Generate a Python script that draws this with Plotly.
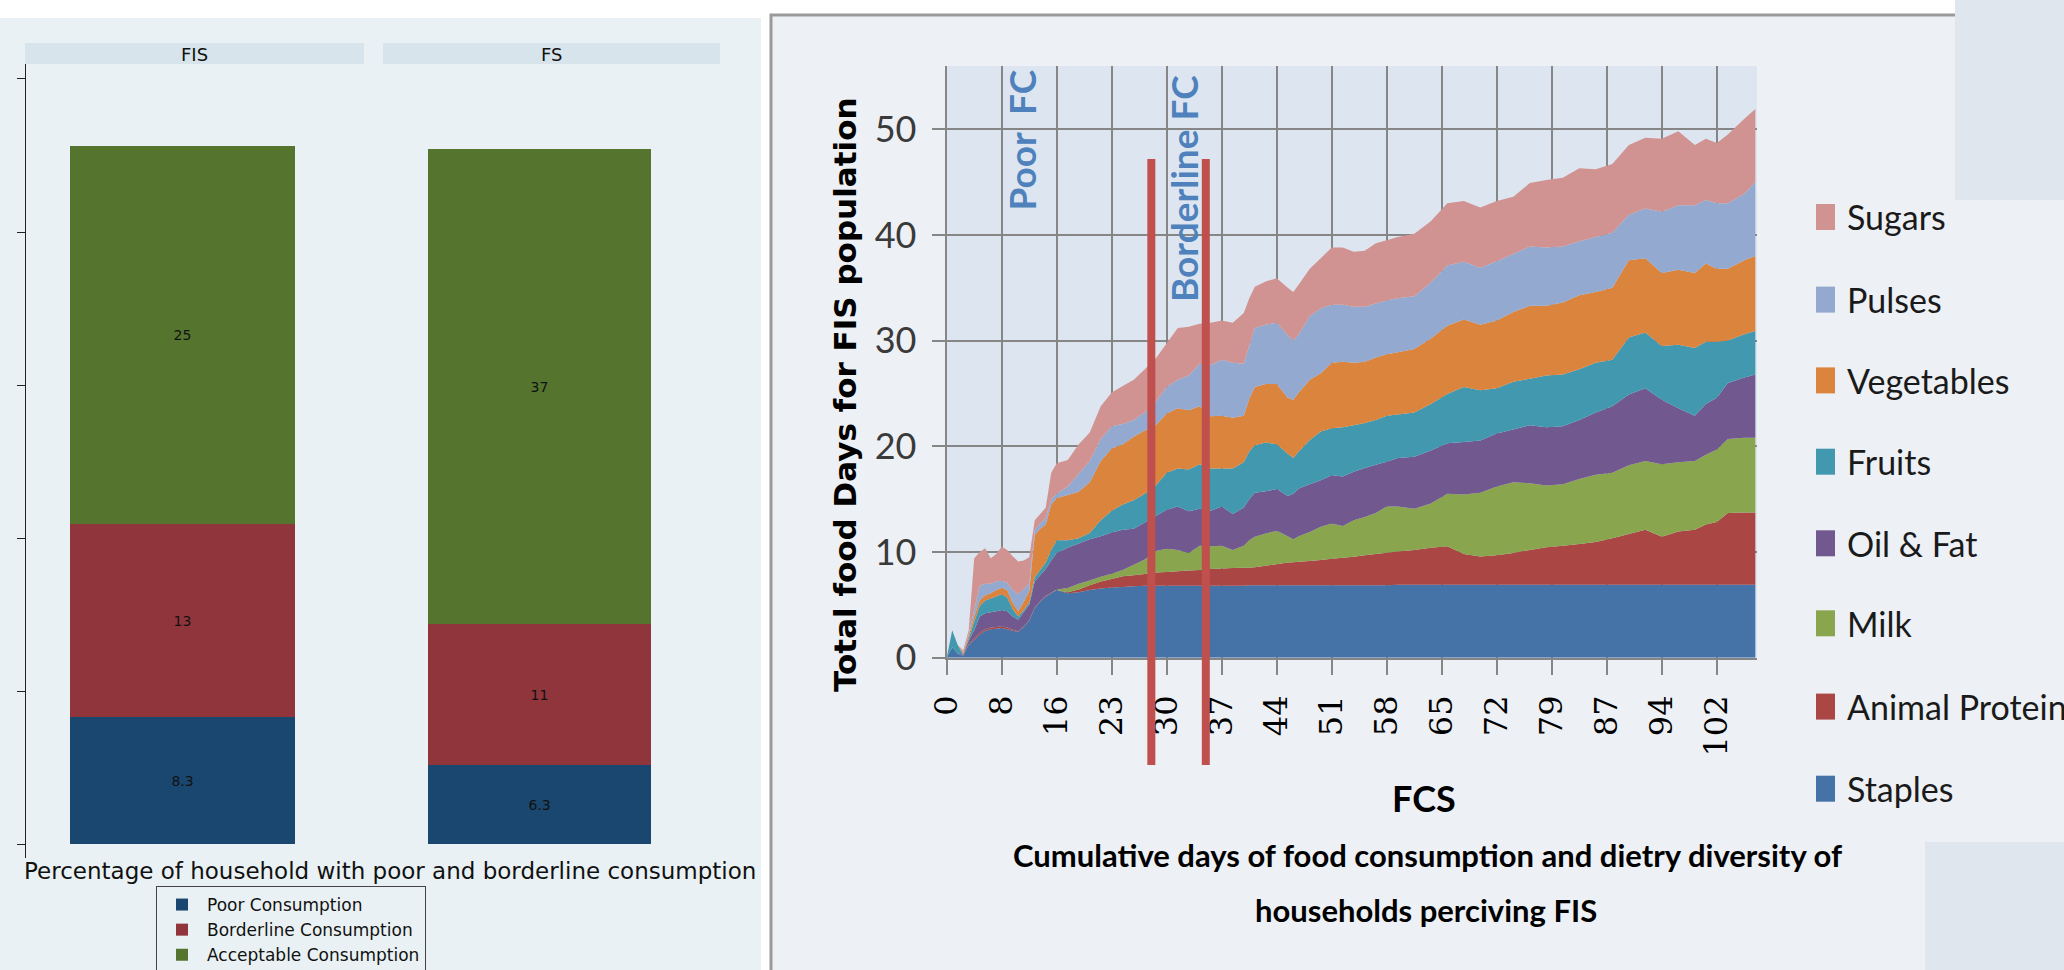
import plotly.graph_objects as go

W, H = 2064, 970


def px(x):
    return x / W


def py(y):
    return 1 - y / H


# ---------------- Left panel: stacked bars (Stata style) ----------------
consumption_classes = ["Poor Consumption", "Borderline Consumption", "Acceptable Consumption"]
bar_colors = ["#1a476f", "#90353b", "#55752f"]
fis_heights = [16.6, 25.2, 49.4]   # segment heights
fs_heights = [10.3, 18.4, 62.2]
fis_labels = ["8.3", "13", "25"]
fs_labels = ["6.3", "11", "37"]
left_yticks = [0, 20, 40, 60, 80, 100]

# ---------------- Right panel: cumulative stacked areas (Excel style) ----------------
rank_idx = [0, 1, 2, 3, 4, 5, 6, 7, 8, 9, 10, 11, 12, 13, 14, 15, 16, 17, 18, 19, 20,
            22, 24, 26, 28, 30, 32, 34, 36, 38, 40, 42, 44, 46, 48, 50, 52, 54,
            55, 56, 58, 60, 62, 63, 64, 66, 68, 70, 72, 74, 76, 78, 80, 82,
            85, 88, 91, 94, 97, 100, 103, 106, 109, 112, 115, 118, 121, 124, 127, 130, 133, 136,
            138, 140, 142, 145, 147]

staples_top = [0, 1.0, 0.4, 0.15, 1.2, 1.7, 2.2, 2.55, 2.7, 2.75, 2.8, 2.7, 2.55, 2.45, 2.9, 3.5, 4.7, 5.3, 5.8, 6.1, 6.4,
               6.1, 6.2, 6.4, 6.55, 6.65, 6.7, 6.75, 6.8, 6.8, 6.8, 6.8, 6.8, 6.8, 6.8, 6.8, 6.8, 6.8,
               6.85, 6.85, 6.85, 6.85, 6.85, 6.85, 6.85, 6.85, 6.85, 6.85, 6.85, 6.85, 6.85, 6.85, 6.85, 6.9,
               6.9, 6.9, 6.9, 6.9, 6.9, 6.9, 6.9, 6.9, 6.9, 6.9, 6.9, 6.9, 6.9, 6.9, 6.9, 6.9, 6.9, 6.9,
               6.9, 6.9, 6.9, 6.9, 6.9]
animal_top = [0, 1.0, 0.4, 0.15, 1.3, 1.85, 2.35, 2.7, 2.85, 2.9, 2.95, 2.85, 2.65, 2.5, 2.95, 3.55, 4.75, 5.35, 5.85, 6.15, 6.4,
              6.2, 6.45, 6.85, 7.2, 7.45, 7.7, 7.8, 7.92, 8.05, 8.1, 8.18, 8.24, 8.3, 8.4, 8.45, 8.48, 8.5,
              8.52, 8.55, 8.7, 8.85, 9.0, 9.03, 9.07, 9.15, 9.24, 9.35, 9.45, 9.56, 9.7, 9.8, 9.94, 10.05,
              10.2, 10.4, 10.55, 9.8, 9.58, 9.7, 9.9, 10.2, 10.45, 10.6, 10.75, 10.95, 11.3, 11.7, 12.1, 11.45, 11.95, 12.1,
              12.6, 12.84, 13.7, 13.74, 13.74]
milk_top = [0, 1.0, 0.4, 0.15, 1.3, 1.85, 2.35, 2.7, 2.85, 2.9, 2.95, 2.85, 2.65, 2.5, 2.95, 3.55, 4.75, 5.35, 5.85, 6.15, 6.45,
            6.6, 7.0, 7.3, 7.65, 7.95, 8.3, 8.8, 9.3, 10.1, 10.3, 10.2, 9.9, 10.6, 10.55, 10.6, 10.2, 10.6,
            11.1, 11.45, 11.75, 12.0, 11.5, 11.2, 11.5, 11.9, 12.4, 12.7, 12.45, 13.0, 13.3, 13.7, 14.3, 14.3,
            14.1, 14.6, 15.5, 15.45, 15.6, 16.2, 16.6, 16.5, 16.3, 16.4, 16.9, 17.3, 17.5, 18.2, 18.6, 18.3, 18.5, 18.6,
            19.2, 19.7, 20.7, 20.8, 20.8]
oil_top = [0, 1.0, 0.4, 0.3, 1.6, 2.6, 3.9, 4.2, 4.3, 4.4, 4.5, 4.4, 3.9, 3.6, 4.3, 5.0, 7.2, 7.8, 8.4, 9.2, 9.9,
           10.4, 10.8, 11.2, 11.5, 11.85, 12.1, 12.2, 12.8, 13.4, 14.0, 14.3, 13.85, 14.1, 13.9, 14.3, 13.6, 14.2,
           15.0, 15.6, 15.75, 15.95, 15.3, 15.5, 16.0, 16.4, 16.8, 17.25, 17.15, 17.6, 17.95, 18.25, 18.55, 18.9,
           19.0, 19.6, 20.3, 20.4, 20.55, 21.2, 21.6, 22.0, 21.8, 21.9, 22.5, 23.2, 23.8, 24.9, 25.5, 24.4, 23.6, 22.9,
           24.0, 24.6, 26.0, 26.5, 26.8]
fruits_top = [0, 2.6, 1.2, 0.3, 1.8, 3.4, 4.9, 5.4, 5.6, 5.8, 6.0, 5.7, 4.6, 3.9, 4.5, 5.2, 7.6, 8.3, 9.0, 10.2, 11.1,
              11.1, 11.3, 11.8, 13.0, 13.9, 14.5, 14.9, 15.5, 16.3, 17.5, 17.9, 17.8, 18.3, 17.9, 17.9, 17.9, 18.5,
              19.5, 20.1, 20.35, 20.2, 19.3, 18.9, 19.5, 20.6, 21.4, 21.7, 21.8, 22.0, 22.2, 22.5, 22.9, 23.0,
              23.2, 24.0, 24.95, 25.6, 25.3, 25.5, 26.1, 26.4, 26.7, 26.8, 27.3, 27.9, 28.2, 30.3, 30.76, 29.5, 29.6, 29.3,
              29.9, 29.9, 30.0, 30.6, 30.9]
veg_top = [0, 2.6, 1.2, 0.45, 2.1, 3.9, 5.4, 5.9, 6.1, 6.4, 6.6, 6.4, 5.2, 4.4, 5.3, 6.3, 11.6, 12.2, 12.6, 14.5, 15.1,
           15.4, 15.7, 16.6, 18.6, 19.8, 20.2, 20.9, 21.5, 22.0, 23.1, 23.6, 23.4, 23.8, 22.85, 22.9, 22.7, 22.9,
           24.5, 25.6, 25.9, 25.9, 24.6, 24.4, 25.1, 26.3, 26.9, 27.9, 28.0, 27.9, 28.0, 28.4, 28.7, 28.9,
           29.2, 30.2, 31.4, 32.0, 31.5, 31.9, 32.7, 33.3, 33.3, 33.6, 34.3, 34.6, 35.0, 37.6, 37.8, 36.4, 36.7, 36.4,
           37.3, 36.8, 36.8, 37.6, 38.0]
pulses_top = [0, 2.6, 1.2, 0.5, 2.3, 4.5, 6.8, 7.0, 7.0, 7.2, 7.3, 7.1, 6.4, 6.0, 6.5, 7.0, 12.1, 12.7, 13.2, 15.0, 15.5,
              16.2, 17.4, 18.6, 20.7, 21.9, 22.1, 22.5, 23.2, 24.2, 25.6, 26.3, 26.7, 27.8, 27.7, 28.2, 27.9, 27.8,
              29.5, 31.2, 31.5, 31.7, 30.5, 30.0, 30.6, 32.3, 33.05, 33.4, 33.4, 33.2, 33.2, 33.5, 33.8, 34.0,
              34.2, 35.5, 37.1, 37.46, 36.9, 37.5, 38.2, 38.9, 38.8, 38.9, 39.4, 39.8, 40.2, 41.9, 42.5, 42.2, 42.8, 42.8,
              43.3, 43.0, 43.0, 43.9, 45.0]
sugars_top = [0, 2.6, 1.2, 0.7, 2.6, 9.4, 10.0, 10.35, 9.4, 9.8, 10.5, 10.2, 9.6, 9.1, 9.2, 9.5, 13.0, 13.6, 14.2, 17.5, 18.4,
              18.7, 20.2, 21.3, 23.8, 25.1, 25.7, 26.3, 27.3, 28.3, 29.75, 31.2, 31.3, 31.6, 31.7, 31.9, 31.7, 32.6,
              34.0, 35.1, 35.6, 35.9, 35.0, 34.6, 35.3, 36.8, 37.8, 38.8, 38.8, 38.4, 38.5, 39.2, 39.5, 39.8,
              40.1, 41.3, 43.0, 43.2, 42.6, 43.2, 43.6, 44.9, 45.2, 45.4, 46.3, 46.2, 46.7, 48.5, 49.2, 49.1, 49.8, 48.5,
              49.1, 48.7, 49.5, 51.0, 51.9]

food_groups = ["Staples", "Animal Protein", "Milk", "Oil & Fat", "Fruits", "Vegetables", "Pulses", "Sugars"]
food_tops = [staples_top, animal_top, milk_top, oil_top, fruits_top, veg_top, pulses_top, sugars_top]
food_colors = ["#4572A7", "#AA4643", "#89A54E", "#71588F", "#4198AF", "#DB843D", "#93A9CF", "#D19392"]

fcs_tick_pos = [0, 10, 20, 30, 40, 50, 60, 70, 80, 90, 100, 110, 120, 130, 140]
fcs_tick_labels = ["0", "8", "16", "23", "30", "37", "44", "51", "58", "65", "72", "79", "87", "94", "102"]
right_yticks = [0, 10, 20, 30, 40, 50]
threshold_pos = [37.2, 47.1]   # Poor / Borderline cut-offs on the category axis

fig = go.Figure()

# ---- bars ----
for i, cls in enumerate(consumption_classes):
    fig.add_trace(go.Bar(
        x=["FIS"], y=[fis_heights[i]], text=[fis_labels[i]], name=cls,
        marker=dict(color=bar_colors[i], line=dict(width=0)), width=[0.663],
        textposition="inside", insidetextanchor="middle", textangle=0,
        textfont=dict(family="DejaVu Sans", size=14, color="#111111"),
        xaxis="x", yaxis="y", showlegend=True, hoverinfo="skip"))
    fig.add_trace(go.Bar(
        x=["FS"], y=[fs_heights[i]], text=[fs_labels[i]], name=cls,
        marker=dict(color=bar_colors[i], line=dict(width=0)), width=[0.663],
        textposition="inside", insidetextanchor="middle", textangle=0,
        textfont=dict(family="DejaVu Sans", size=14, color="#111111"),
        xaxis="x2", yaxis="y2", showlegend=False, hoverinfo="skip"))

# ---- areas ----
for k, (name, tops, col) in enumerate(zip(food_groups, food_tops, food_colors)):
    fig.add_trace(go.Scatter(
        x=rank_idx, y=tops, name=name, mode="none",
        fill="tozeroy" if k == 0 else "tonexty", fillcolor=col,
        xaxis="x3", yaxis="y3", showlegend=False, hoverinfo="skip"))

shapes = []
# left panel background and facet strips
shapes.append(dict(type="rect", xref="paper", yref="paper", x0=px(0), x1=px(761), y0=py(970), y1=py(18),
                   fillcolor="#e9f1f4", line=dict(width=0), layer="below"))
shapes.append(dict(type="rect", xref="paper", yref="paper", x0=px(25), x1=px(364), y0=py(64), y1=py(43),
                   fillcolor="#d8e4eb", line=dict(width=0), layer="below"))
shapes.append(dict(type="rect", xref="paper", yref="paper", x0=px(383), x1=px(720), y0=py(64), y1=py(43),
                   fillcolor="#d8e4eb", line=dict(width=0), layer="below"))
# right panel frame and background
shapes.append(dict(type="rect", xref="paper", yref="paper", x0=px(771), x1=px(2080), y0=py(985), y1=py(15),
                   fillcolor="#edf0f4", line=dict(color="#9a9a9a", width=3), layer="below"))
shapes.append(dict(type="rect", xref="paper", yref="paper", x0=px(1955), x1=px(2064), y0=py(200), y1=py(0),
                   fillcolor="#dfe6ee", line=dict(width=0), layer="below"))
shapes.append(dict(type="rect", xref="paper", yref="paper", x0=px(1925), x1=px(2064), y0=py(970), y1=py(842),
                   fillcolor="#dfe6ee", line=dict(width=0), layer="below"))
shapes.append(dict(type="rect", xref="paper", yref="paper", x0=px(946.7), x1=px(1757), y0=py(657.7), y1=py(66),
                   fillcolor="#dde6f0", line=dict(width=0), layer="below"))
# threshold lines
for t in threshold_pos:
    shapes.append(dict(type="line", xref="x3", yref="paper", x0=t, x1=t, y0=py(765), y1=py(159),
                       line=dict(color="#c0504d", width=8), layer="above"))
# legend swatches for the area chart
legend_centers = [217, 299.6, 380.4, 461.7, 543.3, 623.3, 706.6, 788.7]
legend_order = list(range(len(food_groups)))[::-1]
for c, k in zip(legend_centers, legend_order):
    shapes.append(dict(type="rect", xref="paper", yref="paper", x0=px(1816), x1=px(1835),
                       y0=py(c + 13), y1=py(c - 13), fillcolor=food_colors[k], line=dict(width=0)))


def ann(text, x, y, font, xanchor="center", yanchor="middle", angle=0):
    return dict(text=text, x=px(x), y=py(y), xref="paper", yref="paper", xanchor=xanchor,
                yanchor=yanchor, textangle=angle, showarrow=False, font=font)


annotations = [
    ann("FIS", 194.5, 54, dict(family="DejaVu Sans", size=18, color="#111111")),
    ann("FS", 551.5, 54, dict(family="DejaVu Sans", size=18, color="#111111")),
    ann("Percentage of household with poor and borderline consumption", 758, 871,
        dict(family="DejaVu Sans", size=23, color="#111111"), xanchor="right"),
    ann("Total food Days for FIS population", 845, 395,
        dict(family="DejaVu Sans", size=31, color="#000000", weight="bold"), angle=-90),
    ann("Poor\u00a0 FC", 1021, 140.5, dict(family="Lato", size=37, color="#4f81bd", weight="bold"), angle=-90),
    ann("Borderline FC", 1184, 189, dict(family="Lato", size=37, color="#4f81bd", weight="bold"), angle=-90),
    ann("FCS", 1424, 798, dict(family="Lato", size=36, color="#000000", weight="bold")),
    ann("Cumulative days of food consumption and dietry diversity of", 1427, 855,
        dict(family="Lato", size=31, color="#000000", weight="bold")),
    ann("households perciving FIS", 1426, 910, dict(family="Lato", size=31, color="#000000", weight="bold")),
]
for c, k in zip(legend_centers, legend_order):
    annotations.append(ann(food_groups[k], 1845, c, dict(family="Lato", size=34, color="#1a1a1a"),
                           xanchor="left"))

grid_col = "#868686"
fig.update_layout(
    width=W, height=H, margin=dict(l=0, r=0, t=0, b=0, pad=0, autoexpand=False),
    paper_bgcolor="white", plot_bgcolor="rgba(0,0,0,0)",
    barmode="stack", bargap=0, hovermode=False,
    showlegend=True,
    legend=dict(x=px(156), y=py(886), xanchor="left", yanchor="top", traceorder="normal",
                bgcolor="#e9f1f4", bordercolor="#444444", borderwidth=1, tracegroupgap=0,
                itemwidth=40, font=dict(family="DejaVu Sans", size=17, color="#111111")),
    shapes=shapes, annotations=annotations,
    xaxis=dict(domain=[px(26), px(364)], anchor="y", type="category", range=[-0.463, 0.537],
               showticklabels=False, showgrid=False, zeroline=False, showline=False, ticks=""),
    yaxis=dict(domain=[py(858), py(64)], anchor="x", range=[-1.83, 101.96], tickvals=left_yticks,
               ticks="outside", ticklen=8, tickcolor="#222222", showline=True, linecolor="#222222",
               linewidth=1, showticklabels=False, showgrid=False, zeroline=False),
    xaxis2=dict(domain=[px(383), px(720)], anchor="y2", type="category", range=[-0.464, 0.536],
                showticklabels=False, showgrid=False, zeroline=False, showline=False, ticks=""),
    yaxis2=dict(domain=[py(858), py(64)], anchor="x2", matches="y", visible=False),
    xaxis3=dict(domain=[px(946.7), px(1757)], anchor="y3", range=[0, 147.3],
                tickvals=fcs_tick_pos, ticktext=fcs_tick_labels, tickangle=-90,
                ticks="outside", ticklen=15, tickwidth=2, tickcolor=grid_col,
                showgrid=True, gridcolor=grid_col, gridwidth=2,
                showline=True, linecolor=grid_col, linewidth=2, zeroline=False,
                tickfont=dict(family="DejaVu Serif", size=32, color="#000000"), ticklabelstandoff=8),
    yaxis3=dict(domain=[py(657.7), py(66)], anchor="x3", range=[0, 55.98], tickvals=right_yticks,
                ticks="outside", ticklen=13, tickwidth=2, tickcolor=grid_col,
                showgrid=True, gridcolor=grid_col, gridwidth=2,
                showline=True, linecolor=grid_col, linewidth=2, zeroline=False,
                tickfont=dict(family="Lato", size=36, color="#3a3a3a"), ticklabelstandoff=8),
)

fig.write_html("out.html", config={"displayModeBar": False},
               post_script="document.body.style.margin='0';document.body.style.overflow='hidden';")
